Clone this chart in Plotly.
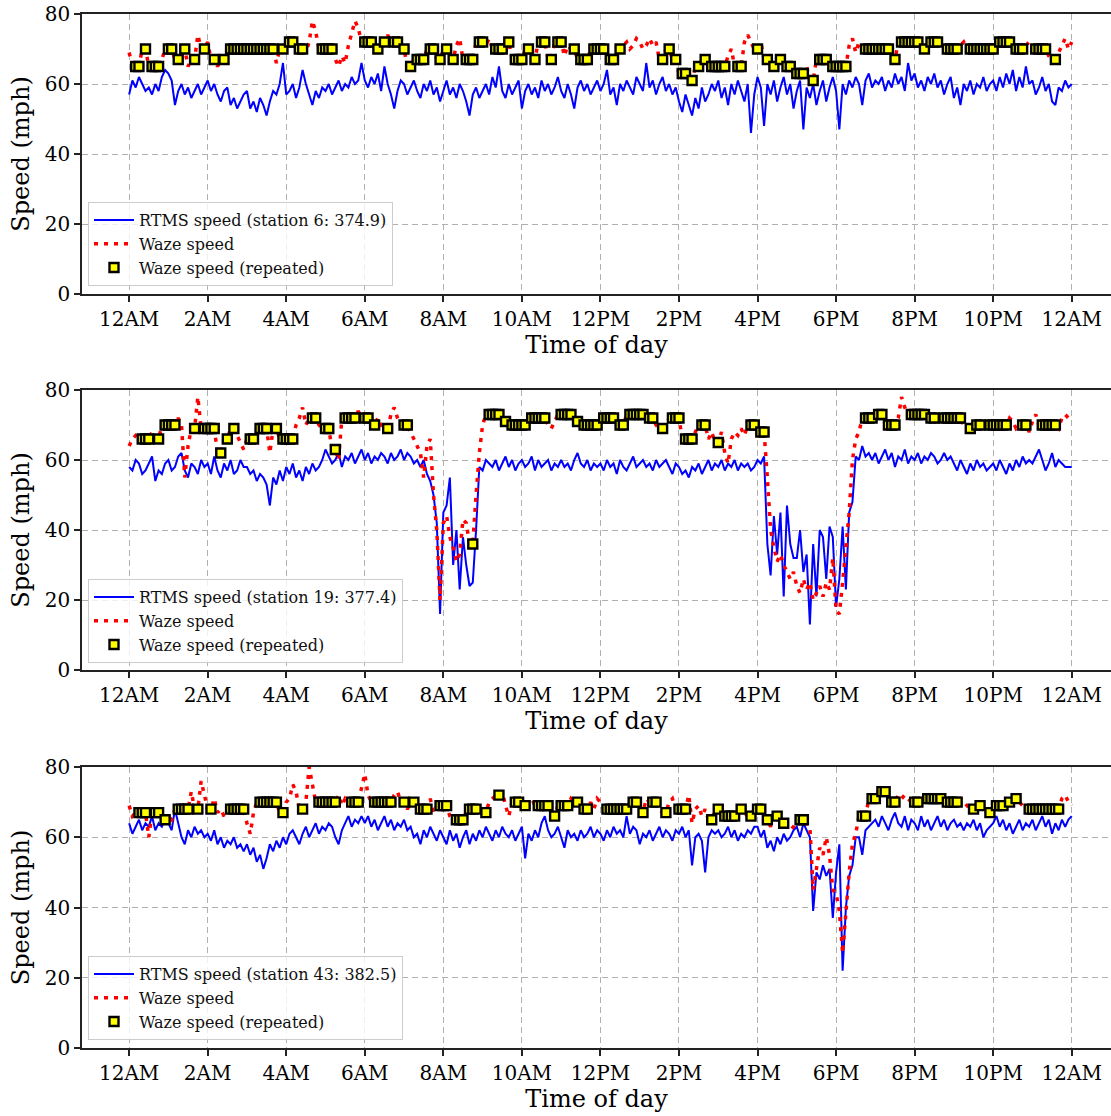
import plotly.graph_objects as go

# ---------------- data (5-minute samples, 12AM .. next 12AM) ----------------
MINUTES = list(range(0, 1441, 5))
HOURS = [m / 60 for m in MINUTES]

TICK_HOURS = [0, 2, 4, 6, 8, 10, 12, 14, 16, 18, 20, 22, 24]
TICK_LABELS = ["12AM", "2AM", "4AM", "6AM", "8AM", "10AM", "12PM",
               "2PM", "4PM", "6PM", "8PM", "10PM", "12AM"]

S6_RTMS = [
    57, 61, 59, 62, 60, 58, 59, 57, 60, 58, 62, 64,
    63, 61, 54, 58, 60, 57, 59, 56, 58, 60, 57, 59,
    61, 58, 60, 57, 55, 58, 59, 54, 56, 53, 55, 57,
    58, 53, 55, 52, 56, 54, 51, 55, 58, 57, 60, 66,
    57, 58, 60, 56, 59, 64, 60, 57, 54, 58, 56, 59,
    58, 60, 57, 59, 61, 58, 60, 59, 62, 60, 61, 66,
    61, 59, 62, 60, 63, 58, 65, 60, 57, 53, 58, 61,
    60, 57, 59, 61, 58, 56, 60, 58, 61, 57, 59, 55,
    58, 61, 57, 59, 56, 60, 58, 55, 51, 57, 59, 56,
    58, 60, 57, 62, 59, 65, 58, 56, 60, 57, 59, 61,
    53, 58, 60, 57, 59, 56, 61, 58, 60, 57, 59, 62,
    58, 56, 60, 57, 53, 59, 61, 58, 60, 57, 59, 61,
    58, 60, 64, 57, 59, 54, 60, 58, 61, 59, 57, 62,
    60, 58, 66, 59, 61, 57, 60, 62, 58, 60, 57, 59,
    55, 52, 57, 54, 51, 56, 53, 59, 55, 57, 60, 58,
    61, 56, 59, 54, 60, 57, 61, 58, 55, 60, 46, 57,
    62, 59, 48, 60, 57, 61, 55, 59, 62, 57, 60, 53,
    58, 61, 47, 59, 56, 60, 54, 58, 61, 55, 59, 62,
    58, 47, 60, 57, 61, 59, 62, 60, 54, 61, 63, 59,
    61, 60, 62, 58, 61, 59, 63, 60, 62, 58, 66, 61,
    63, 59, 61, 58, 62, 60, 63, 59, 61, 57, 60, 62,
    56, 59, 54, 60, 58, 61, 57, 60, 59, 62, 58, 60,
    61, 58, 62, 59, 63, 60, 64, 58, 62, 59, 65, 60,
    61, 57, 59, 62, 58, 60, 55, 54, 59, 58, 61, 59,
    60,
]

S6_WAZE = [
    69, 65, 65, 65, 70, 70, 65, 65, 65, 65, 67, 70,
    70, 70, 67, 67, 70, 70, 65, 67, 67, 74, 70, 70,
    72, 67, 67, 65, 67, 67, 70, 70, 70, 70, 70, 70,
    70, 70, 70, 70, 70, 70, 70, 70, 70, 66, 70, 70,
    72, 72, 72, 70, 70, 70, 69, 72, 78, 75, 70, 70,
    70, 70, 70, 67, 65, 68, 66, 71, 75, 78, 76, 72,
    72, 72, 72, 70, 70, 72, 72, 74, 72, 72, 72, 70,
    70, 65, 65, 67, 67, 67, 67, 70, 70, 70, 67, 67,
    70, 70, 67, 67, 71, 73, 67, 67, 67, 67, 72, 72,
    72, 71, 73, 70, 70, 70, 70, 72, 72, 67, 67, 67,
    67, 70, 70, 67, 67, 72, 72, 72, 67, 67, 72, 72,
    72, 68, 71, 70, 70, 67, 67, 67, 67, 70, 70, 70,
    70, 70, 67, 67, 67, 70, 70, 71, 72, 70, 71, 73,
    72, 70, 71, 73, 71, 72, 67, 67, 70, 70, 67, 67,
    63, 63, 63, 61, 61, 65, 65, 67, 67, 65, 65, 65,
    65, 65, 65, 68, 70, 65, 65, 65, 72, 74, 72, 70,
    70, 72, 67, 67, 65, 65, 67, 67, 65, 65, 65, 63,
    63, 63, 63, 65, 61, 61, 67, 67, 67, 67, 65, 65,
    65, 65, 65, 65, 71, 73, 69, 72, 70, 70, 70, 70,
    70, 70, 70, 70, 70, 67, 67, 72, 72, 72, 72, 72,
    72, 72, 70, 70, 72, 72, 72, 72, 71, 70, 70, 70,
    70, 70, 71, 72, 70, 70, 70, 70, 70, 70, 70, 70,
    70, 72, 72, 72, 72, 72, 70, 70, 70, 70, 71, 72,
    70, 70, 70, 70, 70, 68, 67, 67, 69, 71, 73, 70,
    72,
]

S19_RTMS = [
    58, 57, 60, 59, 56, 57, 59, 61, 54, 57, 56, 59,
    60, 57, 58, 61, 62, 57, 55, 59, 58, 56, 60, 58,
    59, 56, 61, 57, 55, 59, 57, 60, 56, 57, 60, 58,
    58, 56, 57, 54, 56, 55, 53, 47, 55, 53, 57, 54,
    58, 56, 59, 55, 57, 54, 58, 56, 59, 57, 58, 60,
    63, 61, 59, 60, 62, 58, 61, 60, 62, 59, 61, 63,
    60, 62, 59, 61, 60, 62, 61, 59, 62, 60, 61, 63,
    60, 62, 61, 59, 60, 58, 60, 56, 54, 50, 42, 16,
    45, 47, 55, 30, 40, 23, 38, 30, 24, 25, 40, 58,
    57, 60, 59, 58, 60, 57, 59, 61, 58, 60, 57, 59,
    60, 58, 59, 61, 57, 60, 58, 59, 60, 57, 59, 58,
    60, 58, 59, 57, 60, 62, 59, 58, 60, 57, 59, 58,
    59, 57, 60, 58, 59, 56, 60, 58, 57, 59, 61, 58,
    59, 60, 58, 59, 57, 60, 58, 59, 60, 58, 56, 59,
    58, 56, 57, 55, 58, 57, 59, 56, 58, 60, 57, 59,
    58, 60, 57, 59, 58, 60, 57, 59, 58, 59, 57, 58,
    60, 59, 61, 36, 27, 44, 33, 45, 21, 47, 36, 32,
    32, 40, 28, 33, 13, 36, 21, 40, 38, 26, 41, 38,
    18, 26, 41, 23, 45, 48, 61, 60, 64, 61, 62, 60,
    62, 59, 61, 63, 60, 62, 58, 61, 60, 63, 59, 61,
    60, 62, 59, 61, 60, 62, 61, 59, 60, 62, 60, 61,
    59, 57, 60, 58, 56, 59, 57, 60, 58, 59, 57, 58,
    59, 57, 60, 58, 56, 59, 57, 60, 58, 61, 59, 60,
    59, 61, 63, 60, 57, 59, 62, 58, 60, 59, 58, 58,
    58,
]

S19_WAZE = [
    64, 66, 67, 66, 66, 66, 66, 68, 66, 66, 70, 70,
    70, 70, 70, 72, 70, 55, 64, 69, 69, 78, 69, 69,
    69, 69, 69, 62, 62, 66, 66, 69, 69, 67, 65, 63,
    66, 66, 66, 69, 69, 69, 69, 62, 69, 69, 66, 66,
    66, 66, 66, 70, 72, 75, 70, 72, 72, 72, 70, 69,
    69, 69, 63, 63, 60, 72, 72, 72, 72, 72, 74, 72,
    72, 72, 70, 70, 72, 70, 69, 69, 73, 75, 72, 70,
    70, 70, 68, 66, 64, 62, 55, 64, 66, 50, 40, 20,
    42, 44, 38, 35, 31, 33, 43, 42, 36, 36, 50, 62,
    70, 73, 73, 73, 73, 73, 71, 71, 70, 70, 70, 70,
    70, 70, 72, 72, 72, 72, 72, 72, 70, 69, 71, 73,
    73, 73, 73, 73, 71, 71, 70, 70, 70, 70, 70, 70,
    72, 72, 72, 72, 72, 70, 70, 70, 73, 73, 73, 73,
    73, 73, 72, 72, 72, 70, 69, 69, 70, 72, 72, 72,
    72, 66, 66, 66, 66, 68, 70, 70, 70, 66, 68, 65,
    65, 68, 62, 59, 66, 68, 67, 69, 67, 70, 70, 70,
    68, 68, 68, 55, 40, 35, 31, 33, 30, 28, 26, 28,
    24, 22, 26, 23, 25, 20, 22, 24, 21, 25, 23, 32,
    17, 16, 25, 35, 45, 60, 66, 68, 72, 72, 72, 72,
    73, 73, 73, 70, 70, 70, 70, 72, 78, 75, 73, 73,
    73, 73, 73, 73, 72, 72, 72, 71, 72, 72, 72, 72,
    72, 72, 72, 70, 69, 69, 70, 70, 70, 71, 70, 70,
    70, 70, 70, 70, 70, 72, 71, 69, 70, 70, 70, 68,
    71, 73, 70, 70, 70, 70, 70, 70, 69, 72, 73, 72,
    73,
]

S43_RTMS = [
    64, 61, 63, 65, 62, 64, 63, 66, 62, 64, 63, 65,
    64, 62, 68, 64, 60, 58, 62, 60, 63, 61, 62, 60,
    61, 59, 62, 58, 60, 57, 59, 58, 60, 57, 58, 56,
    58, 55, 57, 53, 55, 51, 54, 58, 56, 59, 57, 60,
    58, 61, 62, 60, 58, 61, 63, 60, 62, 64, 61, 63,
    62, 64, 63, 60, 58, 62, 64, 66, 63, 65, 64, 66,
    64, 66, 63, 65, 62, 64, 66, 63, 65, 62, 64, 63,
    65, 62, 63, 60, 61, 58, 62, 60, 63, 61, 59, 62,
    60, 58, 62, 59, 61, 57, 60, 62, 58, 61, 59, 62,
    60, 63, 61, 59, 62, 60, 63, 61, 60, 62, 59, 61,
    63, 54, 61, 59, 62, 60, 64, 66, 62, 60, 61, 63,
    60, 57, 62, 60, 61, 59, 62, 60, 61, 63, 60, 62,
    61, 59, 62, 60, 63, 61, 62, 60, 66, 61, 63, 62,
    58, 61, 60, 62, 59, 61, 63, 60, 62, 61, 59, 62,
    61, 63, 60, 62, 52, 60, 61, 59, 50, 60, 62, 61,
    62, 60, 61, 63, 60, 62, 59, 61, 60, 62, 61, 63,
    63, 60, 62, 57, 59, 56, 60, 58, 61, 59, 60, 62,
    63, 60, 64, 62, 60, 39, 50, 48, 52, 49, 51, 37,
    50, 58, 22, 40, 49, 52, 60, 60, 55, 62, 63, 64,
    65, 63, 66, 64, 62, 65, 67, 64, 63, 66, 62, 65,
    64, 62, 66, 63, 65, 62, 64, 66, 63, 65, 62, 64,
    65, 63, 64, 62, 64, 63, 65, 62, 64, 60, 62, 63,
    64, 66, 63, 65, 62, 64, 61, 63, 65, 62, 64, 63,
    65, 62, 64, 66, 63, 65, 61, 64, 62, 65, 63, 65,
    66,
]

S43_WAZE = [
    69, 66, 67, 67, 67, 67, 60, 67, 67, 67, 65, 65,
    66, 65, 68, 68, 68, 68, 68, 73, 68, 68, 76, 72,
    68, 68, 71, 67, 68, 66, 68, 68, 68, 68, 68, 68,
    64, 61, 67, 70, 70, 70, 70, 70, 70, 70, 67, 67,
    70, 71, 75, 73, 68, 68, 70, 80, 75, 70, 70, 70,
    70, 70, 70, 70, 72, 69, 71, 70, 70, 70, 70, 74,
    78, 72, 70, 70, 70, 70, 70, 70, 70, 72, 73, 70,
    70, 68, 70, 70, 68, 68, 68, 68, 71, 67, 69, 69,
    69, 69, 66, 65, 65, 65, 65, 68, 68, 68, 68, 66,
    67, 67, 70, 71, 72, 72, 73, 69, 66, 70, 70, 70,
    69, 69, 70, 71, 69, 69, 69, 69, 69, 66, 66, 69,
    69, 69, 69, 71, 70, 70, 68, 68, 68, 70, 68, 71,
    70, 68, 68, 68, 68, 68, 68, 68, 68, 70, 70, 70,
    67, 67, 71, 70, 70, 70, 68, 67, 67, 70, 71, 68,
    68, 68, 68, 72, 64, 68, 69, 66, 68, 65, 65, 68,
    68, 66, 66, 66, 66, 66, 68, 68, 67, 66, 66, 68,
    68, 68, 65, 65, 63, 66, 66, 64, 64, 63, 62, 63,
    65, 65, 65, 64, 63, 45, 51, 57, 55, 60, 55, 45,
    44, 39, 27, 40, 50, 58, 61, 66, 66, 66, 71, 71,
    71, 73, 73, 73, 70, 70, 70, 72, 71, 72, 71, 70,
    70, 70, 72, 71, 71, 71, 71, 71, 71, 70, 70, 70,
    70, 70, 71, 70, 69, 68, 68, 69, 69, 68, 67, 67,
    69, 69, 69, 69, 70, 70, 71, 71, 70, 69, 68, 68,
    68, 68, 68, 68, 68, 68, 68, 68, 68, 71, 72, 70,
    69,
]

STATIONS = ["station 6: 374.9", "station 19: 377.4", "station 43: 382.5"]

for arr in (S6_RTMS, S6_WAZE, S19_RTMS, S19_WAZE, S43_RTMS, S43_WAZE):
    assert len(arr) == len(HOURS), len(arr)

PANELS = [(S6_RTMS, S6_WAZE), (S19_RTMS, S19_WAZE), (S43_RTMS, S43_WAZE)]

# ---------------- figure ----------------
W, H = 1111, 1116
M_L, M_R, M_T, M_B = 82, 0, 14, 68
FONT = "DejaVu Serif"

# panel pixel extents (top, bottom) in page coordinates
PANEL_PX = [(14, 294), (390, 670), (767, 1048)]
PLOT_H = H - M_T - M_B


def py(pix):
    return (H - M_B - pix) / PLOT_H


LEGEND_BOTTOM_PX = [286, 663, 1040]

fig = go.Figure()
legend_ids = ["legend", "legend2", "legend3"]

for i, ((rtms, waze), station) in enumerate(zip(PANELS, STATIONS)):
    xa = "x" if i == 0 else f"x{i+1}"
    ya = "y" if i == 0 else f"y{i+1}"
    lg = legend_ids[i]
    rep_x = [HOURS[k] for k in range(1, len(waze)) if waze[k] == waze[k - 1]]
    rep_y = [waze[k] for k in range(1, len(waze)) if waze[k] == waze[k - 1]]

    fig.add_trace(go.Scatter(
        x=HOURS, y=rtms, mode="lines", xaxis=xa, yaxis=ya, legend=lg,
        name=f"RTMS speed ({station})",
        line=dict(color="#0000ff", width=2)))
    fig.add_trace(go.Scatter(
        x=HOURS, y=waze, mode="lines", xaxis=xa, yaxis=ya, legend=lg,
        name="Waze speed",
        line=dict(color="#ff0000", width=3.5, dash="4px,6px")))
    fig.add_trace(go.Scatter(
        x=rep_x, y=rep_y, mode="markers", xaxis=xa, yaxis=ya, legend=lg,
        name="Waze speed (repeated)",
        marker=dict(symbol="square", size=9, color="#ffff00",
                    line=dict(color="black", width=2.4))))

layout = dict(
    width=W, height=H,
    margin=dict(l=M_L, r=M_R, t=M_T, b=M_B),
    paper_bgcolor="white", plot_bgcolor="white",
    font=dict(family=FONT, color="black"),
    showlegend=True,
)

for i in range(3):
    sfx = "" if i == 0 else str(i + 1)
    top_px, bot_px = PANEL_PX[i]
    layout[f"xaxis{sfx}"] = dict(
        domain=[0, 1], anchor=f"y{sfx}", range=[-1.2, 25.0],
        tickmode="array", tickvals=TICK_HOURS, ticktext=TICK_LABELS,
        ticks="outside", ticklen=6, tickwidth=1.5, tickcolor="#222",
        showline=True, linecolor="#222", linewidth=1.5, mirror=True,
        showgrid=True, gridcolor="#b0b0b0", gridwidth=1, griddash="6px,4px",
        zeroline=False, tickfont=dict(size=20, family=FONT),
        title=dict(text="Time of day", font=dict(size=24, family=FONT), standoff=6),
    )
    layout[f"yaxis{sfx}"] = dict(
        domain=[py(bot_px), py(top_px)], anchor=f"x{sfx}", range=[0, 80],
        tickmode="array", tickvals=[0, 20, 40, 60, 80],
        ticks="outside", ticklen=6, tickwidth=1.5, tickcolor="#222",
        showline=True, linecolor="#222", linewidth=1.5, mirror=False,
        showgrid=True, gridcolor="#b0b0b0", gridwidth=1, griddash="6px,4px",
        zeroline=False, tickfont=dict(size=20, family=FONT),
        title=dict(text="Speed (mph)", font=dict(size=24, family=FONT), standoff=8),
    )
    layout[legend_ids[i]] = dict(
        x=(88 - M_L) / (W - M_L - M_R), y=py(LEGEND_BOTTOM_PX[i]),
        xanchor="left", yanchor="bottom",
        bgcolor="rgba(255,255,255,0.8)", bordercolor="#cccccc", borderwidth=1,
        font=dict(size=16, family=FONT, color="#111"),
        itemwidth=40, tracegroupgap=0,
    )

fig.update_layout(**layout)
fig.write_html("out.html")
